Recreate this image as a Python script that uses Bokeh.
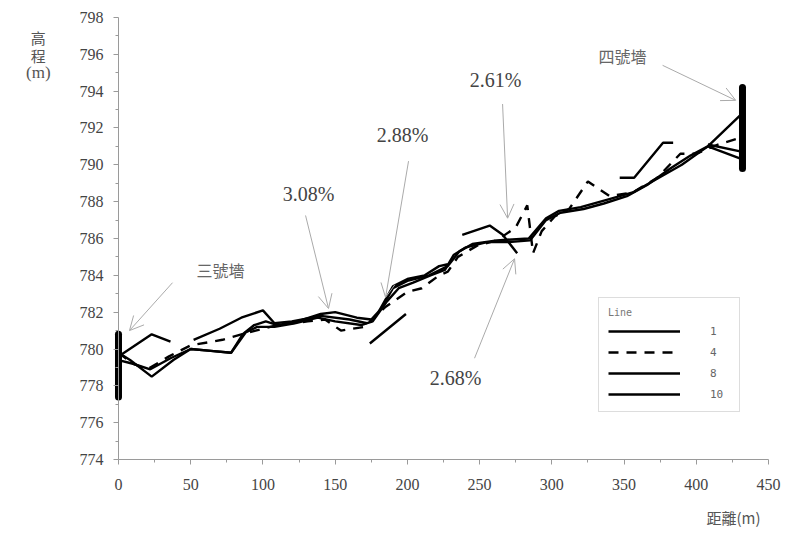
import numpy as np
from bokeh.plotting import figure
from bokeh.models import Range1d, Label, Arrow, OpenHead, Legend, LegendItem, FixedTicker
from bokeh.embed import file_html
from bokeh.resources import INLINE

nan = np.nan

# ---- data (distance m, elevation m) ----
line1_x = [0, 10, 22, 36, 50, 64, 78, 86, 94, 102, 110, 124, 140, 150, 165, 175, 182, 190, 200, 215,
           228, 236, 245, 262, 284, 296, 305, 320, 338, 356, 372, 390, 408, 432]
line1_y = [779.4, 779.2, 778.9, 779.5, 780.0, 779.9, 779.8, 780.8, 781.3, 781.5, 781.3, 781.5, 781.9, 782.0,
           781.7, 781.6, 782.2, 783.3, 783.7, 784.0, 784.5, 785.3, 785.7, 785.9, 786.0, 787.1, 787.5, 787.7,
           788.1, 788.5, 789.2, 790.0, 791.0, 792.8]

line4_x = [0, 10, 20, 35, 50, 72, 90, 110, 131, 143, 154, 170, 185, 200, 210, 222, 228, 235, 248, 262,
           275, 283, 287, 293, 302, 312, 325, 340, 356, 373, 389, 400, 415, 432]
line4_y = [779.8, 779.2, 778.9, 779.6, 780.2, 780.5, 780.9, 781.3, 781.5, 781.6, 781.0, 781.2, 782.3, 783.1,
           783.3, 784.0, 784.2, 785.0, 785.6, 785.9, 786.6, 787.8, 785.2, 786.4, 787.2, 787.6, 789.1, 788.3,
           788.5, 789.3, 790.6, 790.6, 791.1, 791.5]

line8_x = [0, 23, 36, nan, 52, 70, 85, 100, 108, 120, 140, 160, 172, nan, 180, 190, 200, 212, 222, 228, nan,
           238, 257, 266, 276, nan, 347, 357, 377, 384, nan, 408, 432]
line8_y = [779.6, 780.8, 780.4, nan, 780.5, 781.1, 781.7, 782.1, 781.4, 781.5, 781.8, 781.6, 781.4, nan,
           782.0, 783.4, 783.8, 784.0, 784.5, 784.6, nan, 786.2, 786.7, 786.2, 785.2, nan, 789.3, 789.3,
           791.2, 791.2, nan, 791.1, 790.7]

line10_x = [0, 8, 23, 38, 50, 64, 78, 88, 96, 108, 122, 138, 150, 168, 176, 186, 194, 204, 216, 226, 232,
            240, 255, 270, 285, 296, 306, 322, 336, 352, 366, 382, 396, 408, 432, nan, 174, 199]
line10_y = [779.8, 779.4, 778.5, 779.4, 780.0, 779.9, 779.8, 780.9, 781.2, 781.2, 781.4, 781.7, 781.5, 781.3,
            781.5, 782.6, 783.3, 783.6, 784.0, 784.3, 785.1, 785.5, 785.8, 785.8, 785.9, 787.0, 787.4, 787.6,
            787.9, 788.3, 788.9, 789.8, 790.5, 791.0, 790.3, nan, 780.3, 781.9]

wall_x = [0, 432]
wall_bottom = [777.4, 789.8]
wall_top = [780.8, 794.2]

x_ticks = [0, 50, 100, 150, 200, 250, 300, 350, 400, 450]
y_ticks = [774, 776, 778, 780, 782, 784, 786, 788, 790, 792, 794, 796, 798]

# annotations: text, x, y ; arrows: start -> end
note_texts = ["三號墻", "3.08%", "2.88%", "2.61%", "2.68%", "四號墻"]
note_x = [70.6, 131.6, 196.7, 261.1, 233.4, 349.0]
note_y = [784.3, 788.4, 791.6, 794.6, 778.4, 795.9]
arrow_x0 = [37.4, 129.5, 200.8, 265.9, 246.5, 376.7]
arrow_y0 = [783.6, 787.25, 790.2, 793.3, 779.5, 795.4]
arrow_x1 = [7.6, 145.4, 184.9, 269.4, 274.2, 427.3]
arrow_y1 = [781.0, 782.2, 782.8, 787.1, 784.9, 793.5]

legend_labels = ["1", "4", "8", "10"]
y_title_parts = ["高", "程", "(m)"]
y_title_pos = [796.9, 795.95, 795.0]
x_title = "距離(m)"

# ---- figure ----
# the frame covers the whole canvas; both axes are pinned at x=0 / y=774 so that
# the titles outside the data area stay inside the (clipping) frame
p = figure(width=785, height=534, output_backend="svg", toolbar_location=None,
           x_range=Range1d(-81.69, 461.78), y_range=Range1d(769.93, 798.92),
           min_border_left=0, min_border_right=0, min_border_top=0, min_border_bottom=0)
p.outline_line_color = None
p.grid.grid_line_color = None
p.background_fill_color = "white"
p.border_fill_color = "white"

for ax in (p.xaxis[0], p.yaxis[0]):
    ax.axis_line_color = "#9a9a9a"
    ax.major_tick_line_color = "#9a9a9a"
    ax.minor_tick_line_color = "#9a9a9a"
    ax.major_tick_in = 0
    ax.major_tick_out = 5
    ax.minor_tick_in = 0
    ax.minor_tick_out = 3
    ax.major_label_text_font = "Liberation Serif"
    ax.major_label_text_font_size = "16px"
    ax.major_label_text_color = "#444444"
p.xaxis[0].ticker = FixedTicker(ticks=x_ticks, minor_ticks=[v + 25 for v in x_ticks[:-1]])
p.xaxis[0].bounds = (0, 450)
p.xaxis[0].fixed_location = 774
p.yaxis[0].ticker = FixedTicker(ticks=y_ticks, minor_ticks=[v + 1 for v in y_ticks[:-1]])
p.yaxis[0].bounds = (774, 798)
p.yaxis[0].fixed_location = 0
p.xaxis[0].major_label_standoff = 14
p.yaxis[0].major_label_standoff = 10

lw = 2.4
r1 = p.line(line1_x, line1_y, line_color="black", line_width=lw)
r4 = p.line(line4_x, line4_y, line_color="black", line_width=lw, line_dash="10 8")
r8 = p.line(line8_x, line8_y, line_color="black", line_width=lw)
r10 = p.line(line10_x, line10_y, line_color="black", line_width=lw)

p.segment(x0=wall_x, y0=wall_bottom, x1=wall_x, y1=wall_top, line_color="black",
          line_width=7, line_cap="round")

for i, t in enumerate(note_texts):
    is_cjk = not t.endswith("%")
    p.add_layout(Label(x=note_x[i], y=note_y[i], text=t, text_align="center", text_baseline="middle",
                       text_font="Noto Sans CJK TC" if is_cjk else "Liberation Serif",
                       text_font_size="16px" if is_cjk else "20px",
                       text_color="#666666" if is_cjk else "#444444"))
    p.add_layout(Arrow(x_start=arrow_x0[i], y_start=arrow_y0[i], x_end=arrow_x1[i], y_end=arrow_y1[i],
                       line_color="#aaaaaa", line_width=1,
                       end=OpenHead(size=14, line_color="#aaaaaa", line_width=1)))

# x axis title, bottom right
p.add_layout(Label(x=444.5, y=770.85, text=x_title, text_align="right", text_baseline="middle",
                   text_font="Noto Sans CJK TC", text_font_size="15px", text_color="#555555"))

# y axis title, stacked at the top-left
for txt, yy in zip(y_title_parts, y_title_pos):
    p.add_layout(Label(x=-55.5, y=yy, text=txt,
                       text_align="center", text_baseline="middle",
                       text_font="Noto Sans CJK TC" if txt != "(m)" else "Liberation Serif",
                       text_font_size="15px" if txt != "(m)" else "17px", text_color="#555555"))

legend = Legend(items=[LegendItem(label=l, renderers=[r]) for l, r in zip(legend_labels, [r1, r4, r8, r10])],
                location=(598, 122), title="Line", title_text_font="DejaVu Sans Mono",
                title_text_font_size="10px", title_text_color="#777777", title_text_font_style="normal",
                label_text_font="DejaVu Sans Mono", label_text_font_size="11px", label_text_color="#666666",
                glyph_width=72, glyph_height=16, label_standoff=30, spacing=5, padding=9, margin=0,
                border_line_color="#bbbbbb", border_line_width=1, background_fill_color="white")
p.add_layout(legend)

open("out.html", "w").write(file_html(p, INLINE))
